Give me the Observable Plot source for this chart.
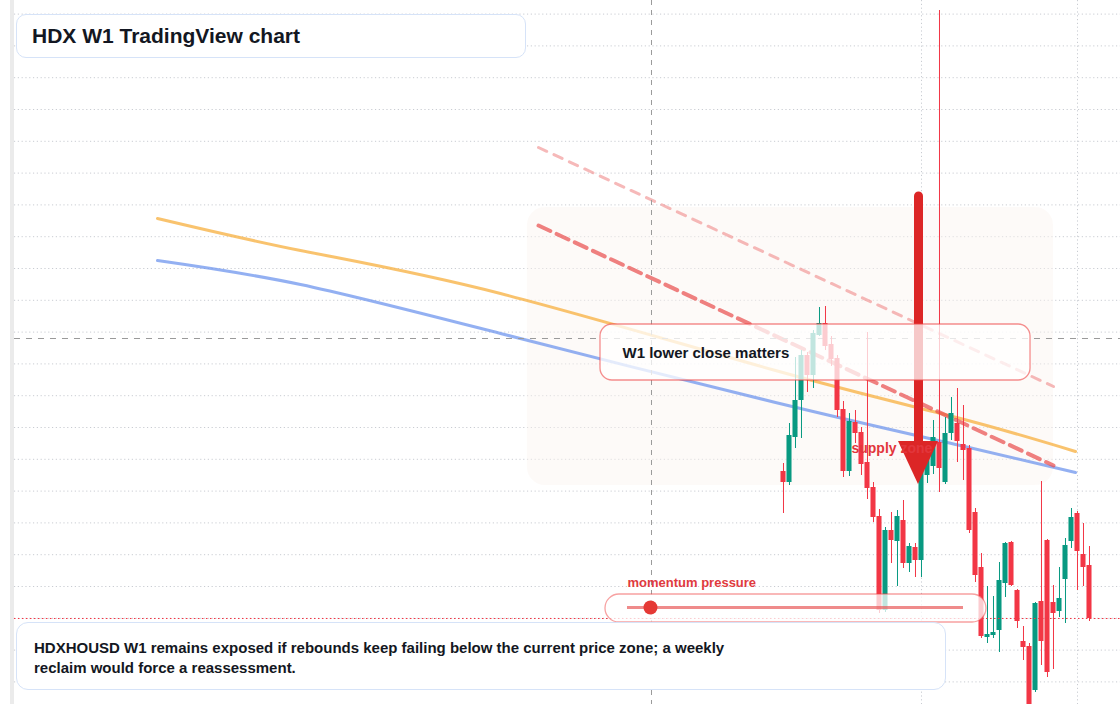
<!DOCTYPE html>
<html>
<head>
<meta charset="utf-8">
<script src="https://cdn.jsdelivr.net/npm/d3@7"></script>
<script src="https://cdn.jsdelivr.net/npm/@observablehq/plot@0.6"></script>
<style>
  html, body { margin: 0; padding: 0; background: #fff; }
  #wrap { position: relative; width: 1120px; height: 704px; overflow: hidden; font-family: "Liberation Sans", Arial, sans-serif; }
  #chart { position: absolute; left: 0; top: 0; }
  .box { position: absolute; box-sizing: border-box; background: #fff; border: 1px solid #d6e3f8; color: #131722; font-weight: bold; }
  #title { left: 16px; top: 14px; width: 510px; height: 44px; border-radius: 10px; font-size: 21px; line-height: 42px; padding-left: 15px; }
  #note { left: 16px; top: 622px; width: 930px; height: 68px; border-radius: 12px; font-size: 15px; line-height: 20px; padding: 15px 17px; }
</style>
</head>
<body>
<div id="wrap">
  <div id="chart"></div>
  <div id="title" class="box">HDX W1 TradingView chart</div>
  <div id="note" class="box">HDXHOUSD W1 remains exposed if rebounds keep failing below the current price zone; a weekly<br>reclaim would force a reassessment.</div>
</div>
<script>
// ---- Data (HDXHOUSD weekly candles, USD) ----
const open  = [0.00633,0.00622,0.00667,0.00704,0.00749,0.00729,0.00769,0.00781,0.00760,0.00746,0.00695,0.00633,0.00682,0.00672,0.00642,0.00617,0.00588,0.00494,0.00574,0.00563,0.00584,0.00541,0.00557,0.00544,0.00629,0.00638,0.00662,0.00622,0.00671,0.00681,0.00660,0.00656,0.00592,0.00537,0.00467,0.00469,0.00474,0.00521,0.00562,0.00514,0.00463,0.00458,0.00414,0.00503,0.00564,0.00502,0.00493,0.00525,0.00563,0.00591,0.00550,0.00539];
const high  = [0.00641,0.00681,0.00747,0.00754,0.00752,0.00774,0.00797,0.00798,0.00768,0.00749,0.00703,0.00691,0.00694,0.00677,0.00772,0.00622,0.00595,0.00577,0.00592,0.00594,0.00604,0.00561,0.00561,0.00642,0.00656,0.00684,0.01094,0.00687,0.00707,0.00716,0.00699,0.00659,0.00596,0.00551,0.00518,0.00508,0.00542,0.00562,0.00563,0.00515,0.00478,0.00461,0.00502,0.00623,0.00565,0.00519,0.00537,0.00566,0.00596,0.00593,0.00581,0.00558];
const low   = [0.00591,0.00619,0.00656,0.00666,0.00712,0.00716,0.00768,0.00754,0.00738,0.00687,0.00627,0.00628,0.00661,0.00629,0.00605,0.00582,0.00491,0.00492,0.00541,0.00518,0.00536,0.00532,0.00527,0.00527,0.00621,0.00630,0.00612,0.00620,0.00664,0.00642,0.00624,0.00571,0.00522,0.00466,0.00461,0.00466,0.00452,0.00507,0.00518,0.00476,0.00444,0.00396,0.00412,0.00439,0.00427,0.00435,0.00487,0.00481,0.00556,0.00514,0.00518,0.00483];
const close = [0.00622,0.00669,0.00704,0.00749,0.00729,0.00771,0.00781,0.00758,0.00745,0.00694,0.00633,0.00683,0.00671,0.00640,0.00616,0.00587,0.00494,0.00574,0.00564,0.00588,0.00541,0.00558,0.00544,0.00634,0.00649,0.00667,0.00636,0.00671,0.00691,0.00663,0.00654,0.00574,0.00529,0.00468,0.00470,0.00472,0.00524,0.00561,0.00519,0.00483,0.00457,0.00398,0.00501,0.00463,0.00432,0.00491,0.00506,0.00559,0.00587,0.00553,0.00537,0.00486];

// moving-average style overlays (week index, price)
const maSlowX = [-104.33, -80.5, -47.17, -1.33, 29.5, 48.67];
const maSlowY = [0.00886, 0.00854, 0.00811, 0.00734, 0.00686, 0.00653];
const maFastX = [-104.33, -80.5, -47.17, -1.33, 29.5, 48.67];
const maFastY = [0.00844, 0.00820, 0.00771, 0.00702, 0.00659, 0.00632];

// trendlines (week index, price)
const trendMainX = [-40.83, 45];
const trendMainY = [0.00879, 0.00639];
const trendOuterX = [-40.83, 45];
const trendOuterY = [0.00957, 0.00718];

// horizontal grid levels (price)
const gridLevels = [0.010904,0.010586,0.010268,0.00995,0.009632,0.009314,0.008996,0.008678,0.00836,0.008042,0.007724,0.007406,0.007088,0.00677,0.006452,0.006134,0.005816,0.005498,0.00518,0.004862,0.004544,0.004226];
const gridWeeks = [23, 49];

// labels
const labelCallout = "W1 lower close matters";
const labelZone = "supply zone";
const labelMomentum = "momentum pressure";

// ---- Build ----
const candles = open.map((o, i) => ({i, o, h: high[i], l: low[i], c: close[i], up: close[i] >= o}));
const green = "#089981", red = "#f23645";
const lastClose = close[close.length - 1];
const xL = -128.17, xR = 56.17;
const font = "Liberation Sans, Arial, sans-serif";

const pts = (xs, ys) => xs.map((x, k) => ({x, y: ys[k]}));

const chart = Plot.plot({
  width: 1120,
  height: 704,
  margin: 0,
  x: {domain: [-130.5, 56.1667], axis: null},
  y: {domain: [0.004, 0.01104], axis: null},
  style: {fontFamily: font, background: "transparent", overflow: "visible"},
  marks: [
    // left strip
    Plot.rect([0], {x1: () => -128.83, x2: () => -128.17, y1: () => 0.004, y2: () => 0.01104, fill: "#ebebeb"}),
    // grid
    Plot.ruleY(gridLevels, {y: d => d, x1: () => xL, x2: () => xR, stroke: "#c9ccd2", strokeWidth: 1, strokeDasharray: "1.2,2.6"}),
    Plot.ruleX(gridWeeks, {x: d => d, stroke: "#c9ccd2", strokeWidth: 1, strokeDasharray: "1.2,2.6"}),
    // supply zone
    Plot.rect([0], {x1: () => -42.67, x2: () => 45, y1: () => 0.00619, y2: () => 0.00897, fill: "#fbf5ef", fillOpacity: 0.45, rx: 18}),
    // moving averages
    Plot.line(pts(maSlowX, maSlowY), {x: "x", y: "y", stroke: "#f8b44a", strokeOpacity: 0.8, strokeWidth: 3, curve: "natural"}),
    Plot.line(pts(maFastX, maFastY), {x: "x", y: "y", stroke: "#6f95ee", strokeOpacity: 0.75, strokeWidth: 3, curve: "natural"}),
    // trendlines
    Plot.line(pts(trendOuterX, trendOuterY), {x: "x", y: "y", stroke: "#f08a8a", strokeOpacity: 0.6, strokeWidth: 3, strokeDasharray: "9,8"}),
    Plot.line(pts(trendMainX, trendMainY), {x: "x", y: "y", stroke: "#e84c4c", strokeOpacity: 0.7, strokeWidth: 4, strokeDasharray: "13,7"}),
    // crosshair
    Plot.ruleY([0.00766], {y: d => d, x1: () => xL, x2: () => xR, stroke: "#9a9a9a", strokeWidth: 1.2, strokeDasharray: "6,6"}),
    Plot.ruleX([-22], {x: d => d, stroke: "#9a9a9a", strokeWidth: 1, strokeDasharray: "5,5"}),
    // candles
    Plot.ruleX(candles, {x: "i", y1: "l", y2: "h", stroke: d => d.up ? green : red, strokeWidth: 1}),
    Plot.rect(candles, {x1: d => d.i - 0.42, x2: d => d.i + 0.42, y1: "o", y2: "c", fill: d => d.up ? green : red}),
    // current price line
    Plot.ruleY([lastClose], {y: d => d, x1: () => xL, x2: () => xR, stroke: red, strokeWidth: 1.2, strokeDasharray: "1.5,2.5"}),
    // arrow
    Plot.ruleX([22.5], {x: d => d, y1: () => 0.00908, y2: () => 0.00654, stroke: "#dc2626", strokeWidth: 9, strokeLinecap: "round"}),
    Plot.areaY([{x: 19.17, a: 0.00663, b: 0.00663}, {x: 22.5, a: 0.00663, b: 0.00620}, {x: 25.83, a: 0.00663, b: 0.00663}],
      {x: "x", y1: "a", y2: "b", fill: "#dc2626", curve: "linear"}),
    // zone label
    Plot.text([labelZone], {x: () => 11.33, y: () => 0.00656, text: d => d, textAnchor: "start", fill: "#e2363c", fontSize: 14, fontWeight: "bold"}),
    // callout
    Plot.rect([0], {x1: () => -30.5, x2: () => 41.17, y1: () => 0.00724, y2: () => 0.00780, fill: "#ffffff", fillOpacity: 0.75, stroke: "#ef4444", strokeOpacity: 0.6, strokeWidth: 1.3, rx: 12}),
    Plot.text([labelCallout], {x: () => -26.83, y: () => 0.00751, text: d => d, textAnchor: "start", fill: "#131722", fontSize: 15, fontWeight: "bold"}),
    // momentum pill
    Plot.text([labelMomentum], {x: () => -26, y: () => 0.00522, text: d => d, textAnchor: "start", fill: "#e03a3e", fontSize: 13, fontWeight: "bold"}),
    Plot.rect([0], {x1: () => -29.67, x2: () => 33.83, y1: () => 0.00482, y2: () => 0.00510, fill: "#ffffff", fillOpacity: 0.75, stroke: "#ef4444", strokeOpacity: 0.5, strokeWidth: 1.3, rx: 14}),
    Plot.ruleY([0.00497], {y: d => d, x1: () => -26, x2: () => 30, stroke: "#e85a5a", strokeOpacity: 0.7, strokeWidth: 3}),
    Plot.dot([0], {x: () => -22.17, y: () => 0.00497, r: 7, fill: "#e53935", stroke: "none"})
  ]
});
document.getElementById("chart").appendChild(chart);
</script>
</body>
</html>
